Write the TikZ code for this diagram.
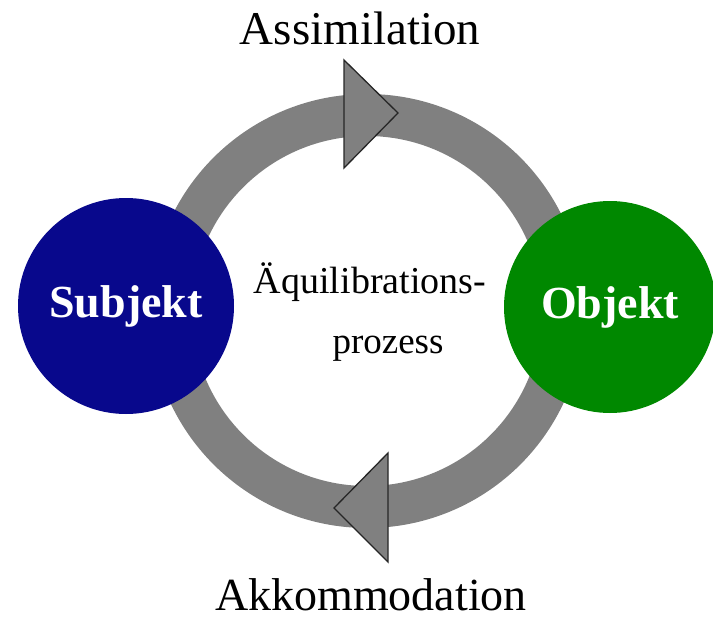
\documentclass[tikz,border=0pt]{standalone}
\usepackage{fontspec}
\setmainfont{Liberation Serif}
\definecolor{subjblue}{RGB}{8,8,140}
\definecolor{objgreen}{RGB}{0,136,0}
\definecolor{ringgray}{RGB}{128,128,128}
\tikzset{
  ringpath/.style={draw=ringgray, line width=42pt},
  headtri/.style={fill=ringgray, draw=black!85, line width=1.3pt, line join=miter},
  ball/.style={circle, minimum size=212pt, inner sep=0pt, text=white,
    font=\fontsize{46}{50}\selectfont\bfseries},
  label/.style={anchor=base, inner sep=0pt, text=black}
}
\begin{document}
\begin{tikzpicture}[x=1pt,y=-1pt]
\useasboundingbox (0,0) rectangle (713,621);
\coordinate (rc) at (367,311);
\draw[ringpath] (rc) circle[radius=196];
% arrowheads
\draw[headtri] (344,60) -- (398,113) -- (344,168) -- cycle;
\draw[headtri] (388,453) -- (334,508) -- (388,562) -- cycle;
% circles
\node[ball, fill=subjblue, minimum size=216pt] (subj) at (126,306) {Subjekt};
\node[ball, fill=objgreen] (obj) at (610,307) {Objekt};
% labels
\node[label, font=\fontsize{47}{50}\selectfont] (assim) at (360,45) {Assimilation};
\node[label, font=\fontsize{46}{50}\selectfont] (akkom) at (371,610) {Akkommodation};
\node[label, font=\fontsize{38}{42}\selectfont] (aequi) at (370,293) {Äquilibrations-};
\node[label, font=\fontsize{37}{42}\selectfont] (proz) at (388,353) {prozess};
\end{tikzpicture}
\end{document}
